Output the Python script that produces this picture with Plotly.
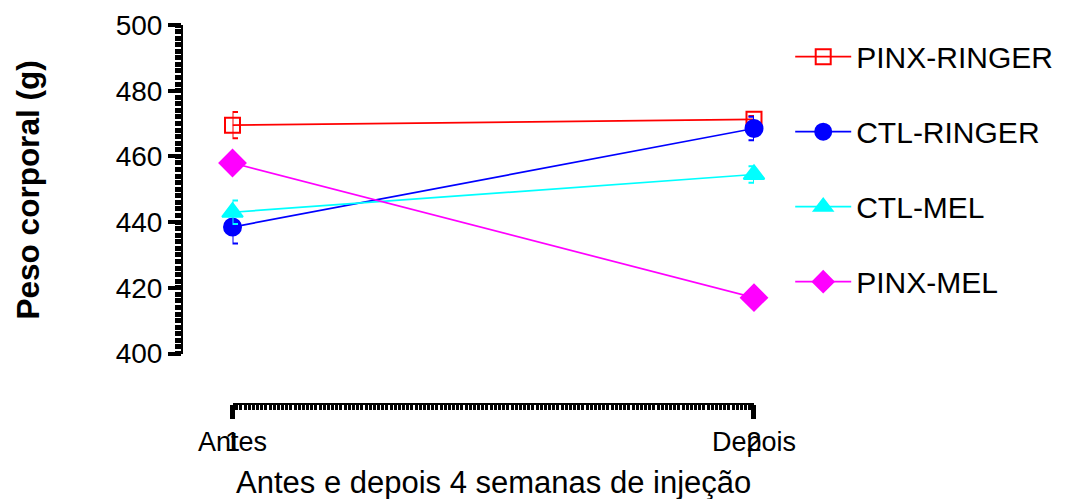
import plotly.graph_objects as go

x_vals = [1, 2]
x_labels = ["Antes", "Depois"]
x_numbers = ["1", "2"]

series_names = ["PINX-RINGER", "CTL-RINGER", "CTL-MEL", "PINX-MEL"]
pinx_ringer = [469.5, 471.3]
pinx_ringer_err = [4.0, 1.0]
ctl_ringer = [438.5, 468.5]
ctl_ringer_err = [5.0, 3.6]
ctl_mel = [443.0, 454.5]
ctl_mel_err = [3.6, 2.5]
pinx_mel = [458.0, 417.0]
pinx_mel_err = [1.0, 2.0]

y_ticks = [400, 420, 440, 460, 480, 500]

styles = [
    dict(color="#FF0000", symbol="square-open", size=15),
    dict(color="#0000FF", symbol="circle", size=17),
    dict(color="#00FFFF", symbol="triangle-up", size=18),
    dict(color="#FF00FF", symbol="diamond", size=20),
]
values = [pinx_ringer, ctl_ringer, ctl_mel, pinx_mel]
errors = [pinx_ringer_err, ctl_ringer_err, ctl_mel_err, pinx_mel_err]

FONT = "Liberation Sans, Arial"

fig = go.Figure()
for i, (name, vals, errs, st) in enumerate(zip(series_names, values, errors, styles)):
    fig.add_trace(go.Scatter(
        x=x_vals, y=vals, name=name, mode="lines+markers",
        legendgroup=f"g{i}",
        line=dict(color=st["color"], width=1.7),
        marker=dict(color=st["color"], symbol=st["symbol"], size=st["size"],
                    line=dict(color=st["color"], width=2)),
        error_y=dict(type="data", array=errs, visible=True, color=st["color"],
                     thickness=2, width=5.5),
        cliponaxis=False,
    ))

# helper trace on the overlaid axis so its "1"/"2" tick labels are drawn
fig.add_trace(go.Scatter(x=x_vals, y=[None, None], xaxis="x2", showlegend=False,
                         hoverinfo="skip", mode="markers"))

fig.add_annotation(text="Antes e depois 4 semanas de injeção", x=0.544, y=-0.208,
                   xref="paper", yref="paper", showarrow=False,
                   xanchor="center", yanchor="middle",
                   font=dict(family=FONT, size=31, color="black"))
fig.add_annotation(text="<b>Peso corporal (g)</b>", x=-0.27, y=0.565,
                   xref="paper", yref="paper", showarrow=False, textangle=-90,
                   xanchor="center", yanchor="middle",
                   font=dict(family=FONT, size=31.5, color="black"))

common_x = dict(domain=[0.0883, 1.0], range=[1, 2], anchor="free", position=0,
                tickvals=x_vals, automargin=False, showgrid=False, zeroline=False,
                tickfont=dict(size=27, color="black"))

# page body has an 8px default margin: size and margins compensate for it
fig.update_layout(
    width=1057, height=491,
    margin=dict(l=174, r=311, t=17, b=95, autoexpand=False),
    paper_bgcolor="white", plot_bgcolor="white",
    font=dict(family=FONT, color="black"),
    showlegend=True,
    legend=dict(x=1.0633, y=0.985, xanchor="left", yanchor="top",
                font=dict(size=30, color="black"), tracegroupgap=33,
                itemwidth=56, bgcolor="rgba(0,0,0,0)"),
    xaxis=dict(
        **common_x,
        ticktext=x_labels,
        showline=True, linecolor="black", linewidth=2,
        ticks="outside", ticklen=14, tickwidth=5, tickcolor="black",
        minor=dict(ticks="outside", ticklen=5, tickwidth=3.2, tickcolor="black", dtick=0.008),
    ),
    xaxis2=dict(
        **common_x,
        overlaying="x", side="bottom",
        ticktext=x_numbers,
        showline=False,
        ticks="outside", ticklen=14, tickwidth=1, tickcolor="rgba(0,0,0,0)",
    ),
    yaxis=dict(
        domain=[0.1332, 1.0], range=[400, 500], anchor="free", position=0,
        tickvals=y_ticks, automargin=False,
        showline=True, linecolor="black", linewidth=2,
        ticks="outside", ticklen=13, tickwidth=4, tickcolor="black",
        minor=dict(ticks="outside", ticklen=6, tickwidth=5, tickcolor="black", dtick=2),
        showgrid=False, zeroline=False,
        tickfont=dict(size=28, color="black"),
    ),
)

fig.write_html("out.html")
